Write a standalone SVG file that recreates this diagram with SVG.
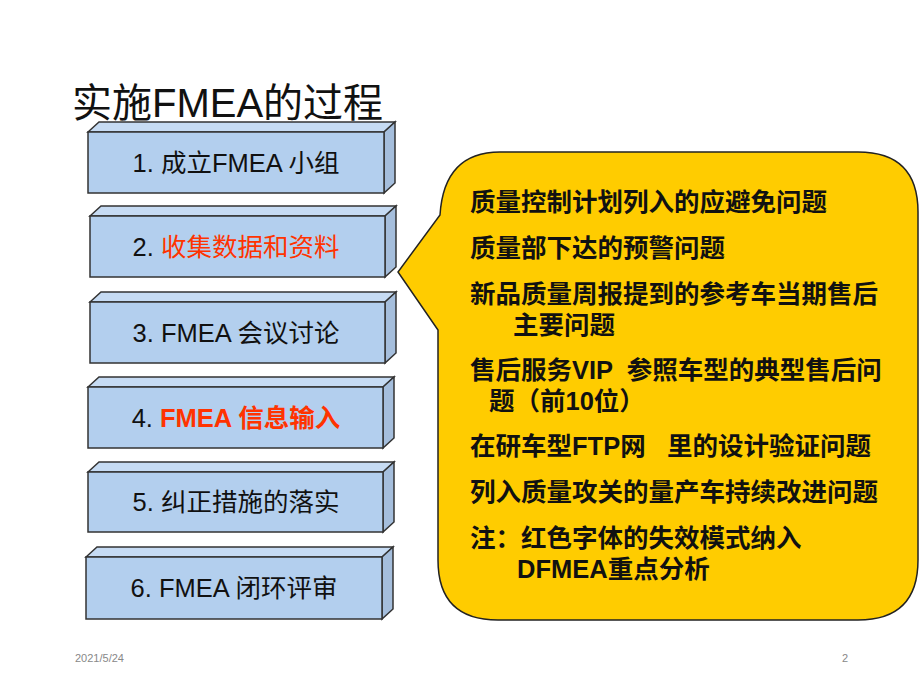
<svg xmlns="http://www.w3.org/2000/svg" width="920" height="690" viewBox="0 0 920 690">
<style>
.f{fill:#b3cfee;stroke:#333;stroke-width:1.5}
.t{fill:#c6dbf3;stroke:#333;stroke-width:1.5}
.s{fill:#a5bedc;stroke:#333;stroke-width:1.5}
.bt{font-family:"Liberation Sans","Noto Sans CJK SC",sans-serif;font-size:25.5px;text-anchor:middle;fill:#111}
.r{fill:#ff3300}
.ct{font-family:"Liberation Sans","Noto Sans CJK SC",sans-serif;font-size:25.5px;font-weight:bold;fill:#111;white-space:pre}
</style>
<rect width="920" height="690" fill="#fff"/>
<text x="72" y="117" font-family="Liberation Sans,Noto Sans CJK SC,sans-serif" font-size="40" fill="#111">实施FMEA的过程</text>
<g id="box1"><polygon class="t" points="88,132 99,122 395,122 384,132"/><polygon class="s" points="384,132 395,122 395,183 384,193"/><rect class="f" x="88" y="132" width="296" height="61"/><text class="bt" x="236" y="172">1. 成立FMEA 小组</text></g>
<g id="box2"><polygon class="t" points="90,216 101,206 396,206 385,216"/><polygon class="s" points="385,216 396,206 396,267 385,277"/><rect class="f" x="90" y="216" width="295" height="61"/><text class="bt" x="236" y="256">2. <tspan class="r">收集数据和资料</tspan></text></g>
<g id="box3"><polygon class="t" points="90,302 101,292 396,292 385,302"/><polygon class="s" points="385,302 396,292 396,353 385,363"/><rect class="f" x="90" y="302" width="295" height="61"/><text class="bt" x="236" y="342">3. FMEA 会议讨论</text></g>
<g id="box4"><polygon class="t" points="88,387 99,377 394,377 383,387"/><polygon class="s" points="383,387 394,377 394,438 383,448"/><rect class="f" x="88" y="387" width="295" height="61"/><text class="bt" x="236" y="427">4. <tspan class="r" font-weight="bold">FMEA 信息输入</tspan></text></g>
<g id="box5"><polygon class="t" points="88,472 99,462 394,462 383,472"/><polygon class="s" points="383,472 394,462 394,522 383,532"/><rect class="f" x="88" y="472" width="295" height="60"/><text class="bt" x="236" y="511">5. 纠正措施的落实</text></g>
<g id="box6"><polygon class="t" points="86,557 97,547 393,547 382,557"/><polygon class="s" points="382,557 393,547 393,609 382,619"/><rect class="f" x="86" y="557" width="296" height="62"/><text class="bt" x="234" y="597">6. FMEA 闭环评审</text></g>
<g id="callout">
<path d="M500,152 H858 Q918,152 918,212 V560 Q918,620 858,620 H498 Q438,620 438,560 V330 L398,272 L440,215 Q444,152 500,152 Z" fill="#ffcc00" stroke="#222" stroke-width="1.5"/>
<text class="ct r" x="470" y="211">质量控制计划列入的应避免问题</text>
<text class="ct" x="470" y="257">质量部下达的预警问题</text>
<text class="ct" x="470" y="303">新品质量周报提到的参考车当期售后</text>
<text class="ct" x="513" y="334">主要问题</text>
<text class="ct r" x="470" y="379" xml:space="preserve">售后服务VIP  参照车型的典型售后问</text>
<text class="ct r" x="489" y="410">题（前10位）</text>
<text class="ct" x="470" y="455" xml:space="preserve">在研车型FTP网   里的设计验证问题</text>
<text class="ct" x="470" y="501">列入质量攻关的量产车持续改进问题</text>
<text class="ct r" x="470" y="547">注：红色字体的失效模式纳入</text>
<text class="ct r" x="517" y="578">DFMEA重点分析</text>
</g>
<g id="connectors"/>
<text x="75" y="662" font-family="Liberation Sans,sans-serif" font-size="11" fill="#888">2021/5/24</text>
<text x="842" y="662" font-family="Liberation Sans,sans-serif" font-size="11" fill="#888">2</text>
</svg>
